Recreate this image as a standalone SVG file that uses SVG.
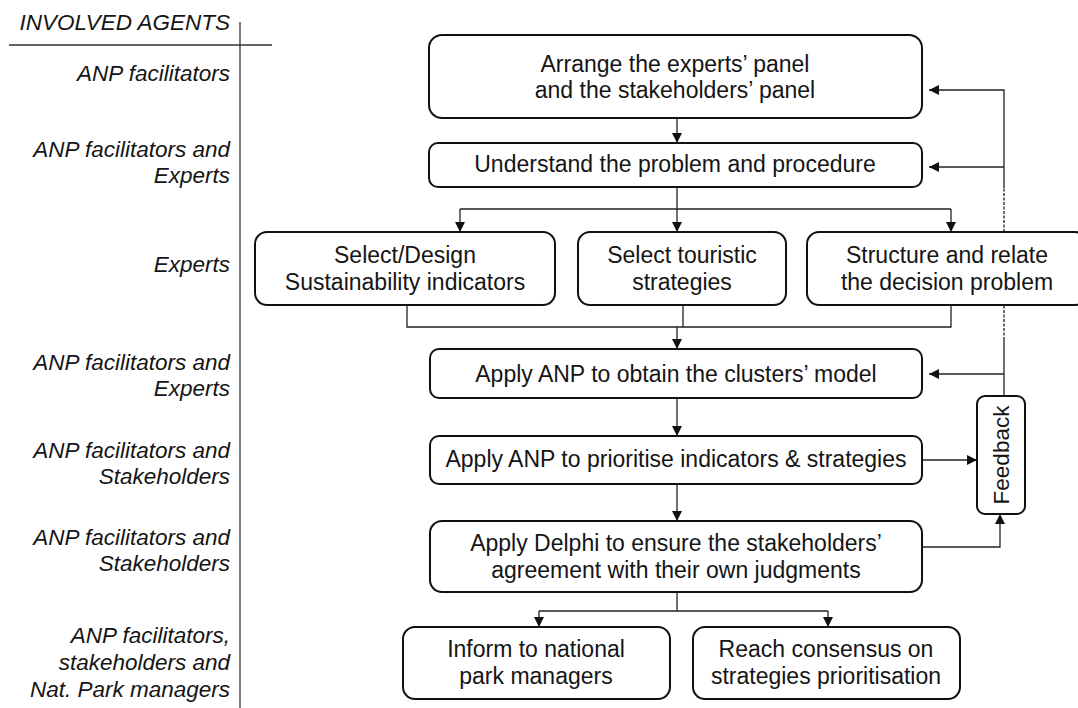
<svg xmlns="http://www.w3.org/2000/svg" width="1078" height="708" viewBox="0 0 1078 708">
<defs>
<marker id="ah" markerUnits="userSpaceOnUse" markerWidth="11" markerHeight="11" refX="10" refY="5" orient="auto">
<path d="M0,0 L10,5 L0,10 z" fill="#111"/>
</marker>
<style>
.box{fill:#fff;stroke:#111;stroke-width:2}
.t{font-family:"Liberation Sans",Arial,sans-serif;font-size:23px;fill:#151515;text-anchor:middle}
.lab{font-family:"Liberation Sans",Arial,sans-serif;font-size:22.5px;font-style:italic;fill:#151515;text-anchor:end}
.c{fill:none;stroke:#222;stroke-width:1.3}
.a{marker-end:url(#ah)}
.d{stroke-dasharray:3,1.5}
</style>
</defs>
<rect width="1078" height="708" fill="#fff"/>
<g id="agents">
<line x1="9" y1="45" x2="272" y2="45" stroke="#333" stroke-width="1.3"/>
<line x1="240" y1="22" x2="240" y2="708" stroke="#333" stroke-width="1.3"/>
<text class="lab" x="230" y="30">INVOLVED AGENTS</text>
<text class="lab" x="230" y="81">ANP facilitators</text>
<text class="lab" x="230" y="157">ANP facilitators and</text>
<text class="lab" x="230" y="183">Experts</text>
<text class="lab" x="230" y="272">Experts</text>
<text class="lab" x="230" y="370">ANP facilitators and</text>
<text class="lab" x="230" y="396">Experts</text>
<text class="lab" x="230" y="458">ANP facilitators and</text>
<text class="lab" x="230" y="484">Stakeholders</text>
<text class="lab" x="230" y="545">ANP facilitators and</text>
<text class="lab" x="230" y="571">Stakeholders</text>
<text class="lab" x="230" y="643">ANP facilitators,</text>
<text class="lab" x="230" y="670">stakeholders and</text>
<text class="lab" x="230" y="697">Nat. Park managers</text>
</g>
<g id="connectors">
<path class="c a" d="M677,118 V143"/>
<path class="c" d="M1004,396 V340"/>
<path class="c d" d="M1004,340 V188"/>
<path class="c a" d="M1004,188 V90 H929"/>
<path class="c a" d="M1004,167 H929"/>
<path class="c a" d="M1004,374 H929"/>
<path class="c" d="M677,187 V209 M460,209 H951"/>
<path class="c a" d="M460,209 V232"/>
<path class="c a" d="M677,209 V232"/>
<path class="c a" d="M951,209 V232"/>
<path class="c" d="M407,305 V327 H951 V305 M683,305 V327"/>
<path class="c a" d="M677,327 V349"/>
<path class="c a" d="M677,398 V436"/>
<path class="c a" d="M922,460 H977"/>
<path class="c a" d="M677,484 V521"/>
<path class="c a" d="M922,547 H1000 V514"/>
<path class="c" d="M677,592 V611 M539,611 H828"/>
<path class="c a" d="M539,611 V627"/>
<path class="c a" d="M828,611 V627"/>
</g>
<g id="n1">
<rect class="box" x="429" y="35" width="493" height="83" rx="13"/>
<text class="t" x="675" y="72">Arrange the experts’ panel</text>
<text class="t" x="675" y="98">and the stakeholders’ panel</text>
</g>
<g id="n2">
<rect class="box" x="429" y="143" width="493" height="44" rx="9"/>
<text class="t" x="675" y="172">Understand the problem and procedure</text>
</g>
<g id="n3">
<rect class="box" x="255" y="232" width="300" height="73" rx="12"/>
<text class="t" x="405" y="263">Select/Design</text>
<text class="t" x="405" y="290">Sustainability indicators</text>
</g>
<g id="n4">
<rect class="box" x="578" y="232" width="208" height="73" rx="12"/>
<text class="t" x="682" y="263">Select touristic</text>
<text class="t" x="682" y="290">strategies</text>
</g>
<g id="n5">
<rect class="box" x="807" y="232" width="280" height="73" rx="12"/>
<text class="t" x="947" y="263">Structure and relate</text>
<text class="t" x="947" y="290">the decision problem</text>
</g>
<g id="n6">
<rect class="box" x="430" y="349" width="492" height="49" rx="9"/>
<text class="t" x="676" y="382">Apply ANP to obtain the clusters’ model</text>
</g>
<g id="n7">
<rect class="box" x="430" y="436" width="492" height="48" rx="9"/>
<text class="t" x="676" y="467">Apply ANP to prioritise indicators &amp; strategies</text>
</g>
<g id="n8">
<rect class="box" x="430" y="521" width="492" height="71" rx="12"/>
<text class="t" x="676" y="551">Apply Delphi to ensure the stakeholders’</text>
<text class="t" x="676" y="578">agreement with their own judgments</text>
</g>
<g id="n9">
<rect class="box" x="403" y="627" width="267" height="72" rx="12"/>
<text class="t" x="536" y="657">Inform to national</text>
<text class="t" x="536" y="684">park managers</text>
</g>
<g id="n10">
<rect class="box" x="693" y="627" width="267" height="72" rx="12"/>
<text class="t" x="826" y="657">Reach consensus on</text>
<text class="t" x="826" y="684">strategies prioritisation</text>
</g>
<g id="feedback">
<rect class="box" x="977" y="396" width="48" height="118" rx="8"/>
<text class="t" transform="translate(1009,455) rotate(-90)" x="0" y="0" style="font-size:22.5px">Feedback</text>
</g>
</svg>
